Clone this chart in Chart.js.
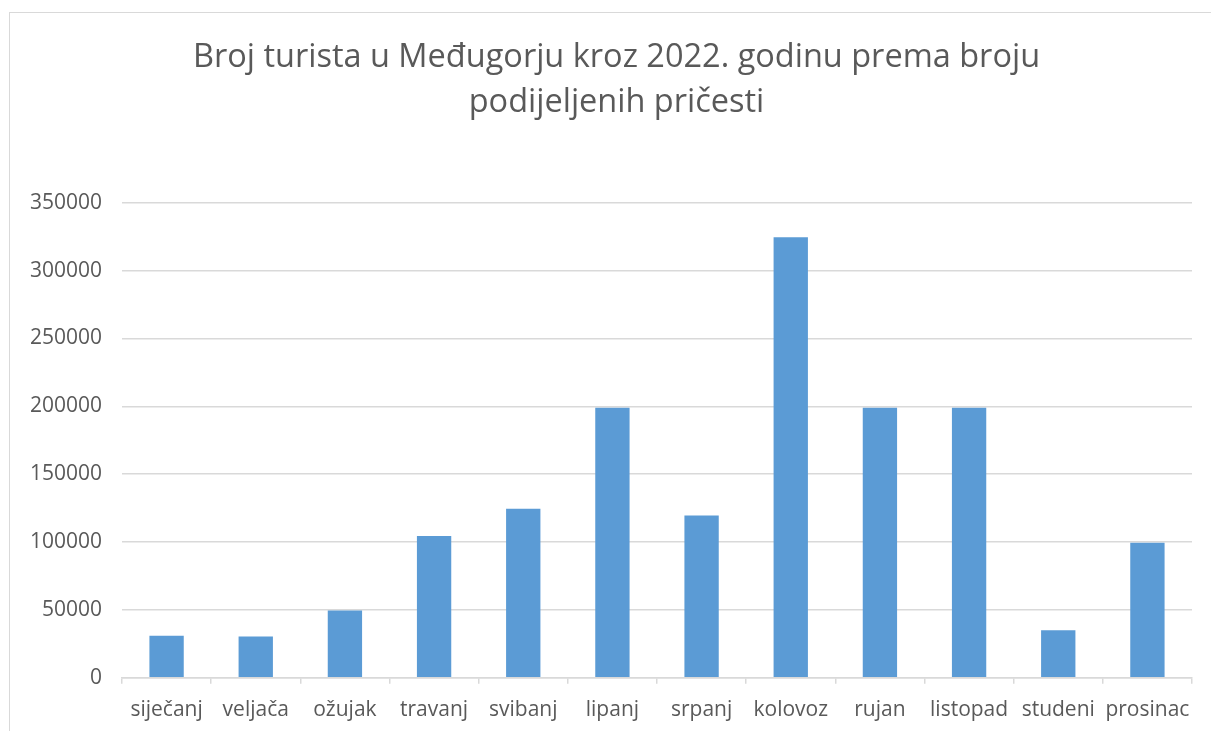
<!DOCTYPE html>
<html>
<head>
<meta charset="utf-8">
<script src="https://cdn.jsdelivr.net/npm/chart.js@4"></script>
<style>
  html, body { margin: 0; padding: 0; background: #fff; overflow: hidden; width: 1211px; height: 731px; }
  #okvir { position: absolute; left: 9px; top: 12px; width: 1214px; height: 760px; border: 1px solid #d9d9d9; box-sizing: border-box; }
  #grafikon { position: absolute; left: 0; top: 0; }
</style>
</head>
<body>
<div id="okvir">
  <canvas id="grafikon" width="1212" height="724"></canvas>
</div>
<script>
// podaci procijenjeni sa slike
const mjeseci = ["siječanj", "veljača", "ožujak", "travanj", "svibanj", "lipanj", "srpanj", "kolovoz", "rujan", "listopad", "studeni", "prosinac"];
const pricesti = [31000, 30500, 49500, 104500, 124500, 199000, 119500, 324500, 199000, 199000, 35000, 99500];
const naslov = ["Broj turista u Međugorju kroz 2022. godinu prema broju", "podijeljenih pričesti"];
const yMax = 350000;
const yKorak = 50000;

const siva = "#595959";
const linije = "#d9d9d9";

const ctx = document.getElementById("grafikon");

new Chart(ctx, {
  type: "bar",
  data: {
    labels: mjeseci,
    datasets: [
      {
        data: pricesti,
        backgroundColor: "#5b9bd5",
        categoryPercentage: 1,
        barPercentage: 0.385,
        yAxisID: "y",
      },
    ],
  },
  options: {
    responsive: false,
    animation: false,
    layout: { padding: { left: 20, right: 19, top: 22, bottom: 0 } },
    plugins: {
      legend: { display: false },
      tooltip: { enabled: false },
      title: {
        display: true,
        text: naslov,
        color: siva,
        font: { family: "'Open Sans'", size: 32.5, weight: "normal", lineHeight: 1.38 },
        padding: { top: 0, bottom: 78 },
      },
    },
    scales: {
      x: {
        grid: { display: true, drawOnChartArea: false, drawTicks: true, tickLength: 6, color: linije, lineWidth: 1.5 },
        border: { display: true, color: linije, width: 1.5 },
        ticks: { color: siva, padding: 14, font: { family: "'Open Sans'", size: 21 }, maxRotation: 0, autoSkip: false },
      },
      y: {
        min: 0,
        max: yMax,
        afterFit: (scale) => { scale.width = 92; },
        grid: { color: linije, lineWidth: 1.5, drawTicks: false },
        border: { display: false },
        ticks: {
          stepSize: yKorak,
          color: siva,
          padding: 20,
          font: { family: "'Open Sans'", size: 21 },
          callback: (v) => String(v),
        },
      },
      // prazna desna os samo da naslov bude centriran kao u originalu
      desno: {
        type: "linear",
        position: "right",
        afterFit: (scale) => { scale.width = 11; },
        grid: { drawOnChartArea: false, drawTicks: false },
        border: { display: false },
        ticks: { display: false },
      },
    },
  },
});
</script>
</body>
</html>
